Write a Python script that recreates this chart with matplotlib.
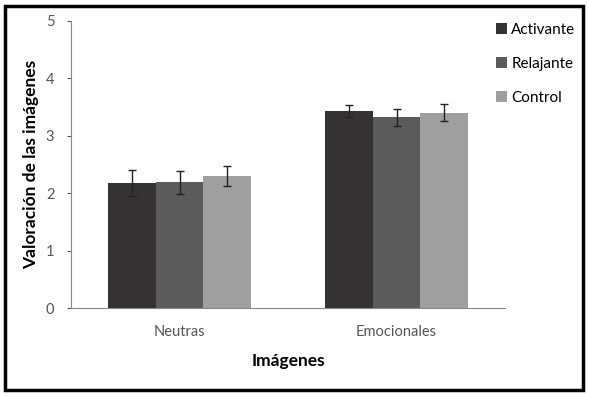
import matplotlib
matplotlib.use("Agg")
import matplotlib.pyplot as plt
import numpy as np
from matplotlib.patches import Rectangle

groups = ["Neutras", "Emocionales"]
series = ["Activante", "Relajante", "Control"]
values = {
    "Activante": [2.18, 3.43],
    "Relajante": [2.19, 3.32],
    "Control": [2.30, 3.40],
}
errors = {
    "Activante": [0.23, 0.10],
    "Relajante": [0.20, 0.15],
    "Control": [0.17, 0.15],
}
colors = ["#343233", "#5c5b5c", "#a09fa0"]

plt.rcParams['font.family'] = ['Lato', 'DejaVu Sans']

fig = plt.figure(figsize=(5.89, 3.96), dpi=100)
ax = fig.add_axes([71/589, 1-308/396, 434/589, 287/396])

x = np.arange(len(groups))
w = 0.221
for i, s in enumerate(series):
    ax.bar(x + (i-1)*w, values[s], w, color=colors[i], label=s,
           yerr=errors[s], capsize=3, error_kw=dict(ecolor="#222222", elinewidth=1, capthick=1))

ax.set_xlim(-0.5, 1.5)
ax.set_ylim(0, 5)
ax.set_xticks(x)
ax.set_xticklabels(groups, color="#555555", fontsize=10.5)
ax.set_yticks(range(6))
ax.tick_params(axis='y', colors="#555555", labelsize=10.5, length=3, direction='out', pad=9)
ax.tick_params(axis='x', length=0, pad=12)
for sp in ["top", "right"]:
    ax.spines[sp].set_visible(False)
ax.spines["left"].set_color("#888888")
ax.spines["bottom"].set_color("#888888")
ax.set_xlabel("Imágenes", fontsize=12.5, fontweight='bold', labelpad=10)
ax.set_ylabel("Valoración de las imágenes", fontsize=12.5, fontweight='bold', labelpad=5)

ax.legend(loc="upper left", bbox_to_anchor=(490/589, 1-17/396), bbox_transform=fig.transFigure,
          frameon=False, fontsize=11, handlelength=0.7, handleheight=0.7,
          handletextpad=0.3, labelspacing=1.3, borderaxespad=0)

fig.patches.append(Rectangle((5/589, 6/396), 578/589, 384/396, transform=fig.transFigure,
                             fill=False, edgecolor="black", linewidth=2.5))

fig.savefig("out.png", dpi=100)
